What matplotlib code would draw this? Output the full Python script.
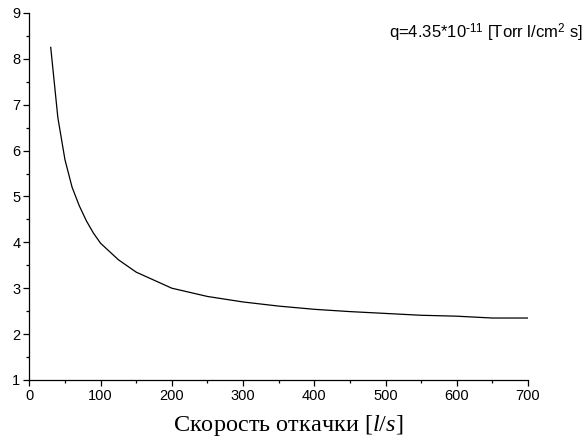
import matplotlib
matplotlib.use("Agg")
import matplotlib.pyplot as plt
from matplotlib.ticker import MultipleLocator

# скорость откачки [l/s] и давление
speed = [30, 40, 50, 60, 70, 80, 90, 100, 125, 150, 200, 250, 300,
         350, 400, 450, 500, 550, 600, 650, 700]
pressure = [8.25, 6.72, 5.8, 5.2, 4.8, 4.47, 4.2, 3.98, 3.62, 3.35, 3.0,
            2.82, 2.7, 2.61, 2.54, 2.49, 2.45, 2.41, 2.39, 2.35, 2.35]

note = r'q=4.35*10$^{\mathregular{\text{-}11}}$ [Torr l/cm$^{\mathregular{2}}$ s]'

plt.rcParams['mathtext.fontset'] = 'custom'
plt.rcParams['mathtext.it'] = 'Liberation Serif:italic'
plt.rcParams['mathtext.rm'] = 'Liberation Serif'

fig = plt.figure(figsize=(5.87, 4.47), dpi=100)
ax = fig.add_axes([0.050, 0.150, 0.8495, 0.821])

ax.plot(speed, pressure, color='black', lw=0.9)

ax.set_xlim(0, 700)
ax.set_ylim(1, 9)
ax.xaxis.set_major_locator(MultipleLocator(100))
ax.xaxis.set_minor_locator(MultipleLocator(50))
ax.yaxis.set_major_locator(MultipleLocator(1))
ax.yaxis.set_minor_locator(MultipleLocator(0.5))

for s in ['top', 'right']:
    ax.spines[s].set_visible(False)
for s in ['left', 'bottom']:
    ax.spines[s].set_linewidth(0.9)

ax.tick_params(which='major', direction='out', length=4.5, width=0.9,
               labelsize=10.5, pad=2)
ax.tick_params(which='minor', direction='out', length=2.5, width=0.9)
for lab in ax.get_xticklabels() + ax.get_yticklabels():
    lab.set_fontfamily('Liberation Sans')

ax.set_xlabel(r'Скорость откачки [$\mathit{l/s}$]', fontfamily='Liberation Serif',
              fontsize=17.5, va='center')
ax.xaxis.set_label_coords(0.519, -0.125)

fig.text(0.993, 0.926, note, ha='right', va='center',
         fontfamily='Liberation Sans', fontsize=12)

fig.savefig('out.png', dpi=100)
